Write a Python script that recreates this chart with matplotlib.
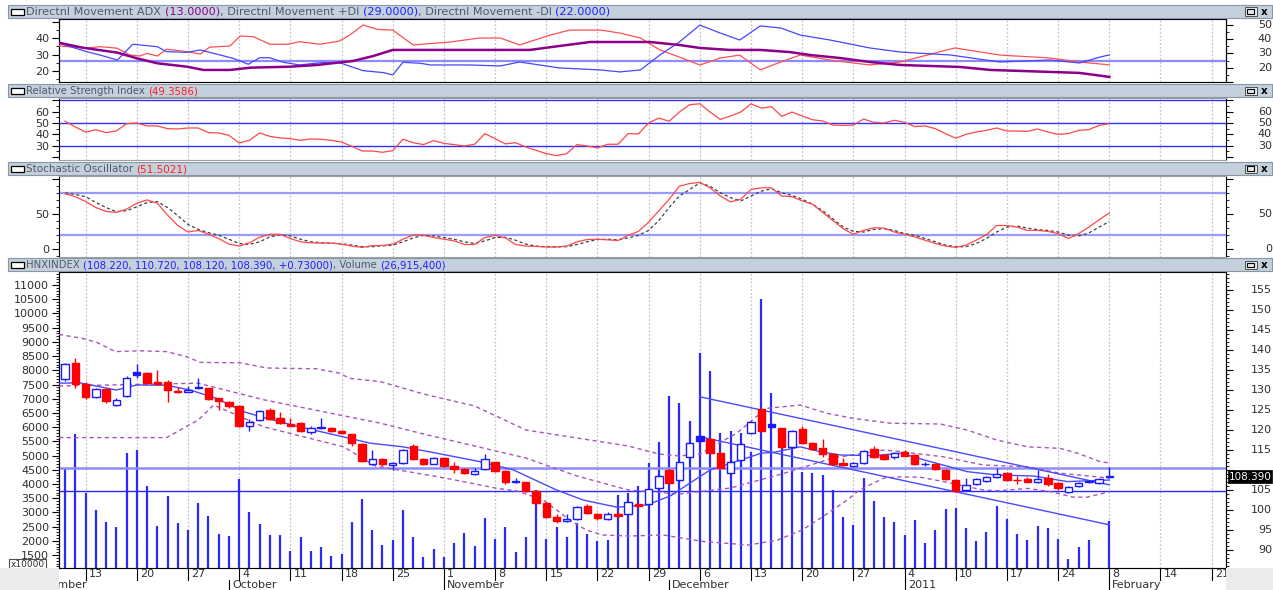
import matplotlib
matplotlib.use("Agg")
import matplotlib.pyplot as plt
import matplotlib.transforms as mtrans
from matplotlib.patches import Rectangle
from matplotlib.ticker import MultipleLocator, FixedLocator

W, H = 1273, 590
LEFT, RIGHT = 59, 1226
XMIN, XMAX = -0.6, 113.4

# ---------------- data (bar index 0 = first visible session) ----------------
opens = [132.75, 136.8, 131.5, 128.2, 130.2, 126.2, 128.5, 134.6, 134.2, 132.0,
         132.1, 129.8, 129.6, 130.5, 130.4, 127.9, 127.1, 126.0, 121.0, 122.5,
         125.0, 123.1, 121.4, 121.8, 119.4, 120.4, 120.6, 119.75, 118.9, 116.5,
         111.5, 112.75, 111.25, 111.7, 116.1, 112.75, 111.6, 113.1, 111.0, 110.2,
         109.0, 110.2, 111.9, 109.8, 106.9, 106.9, 104.75, 101.7, 98.3, 97.25,
         97.7, 101.0, 99.0, 97.7, 98.9, 98.9, 101.4, 101.5, 105.4, 110.0,
         107.5, 113.2, 118.6, 117.75, 114.2, 109.3, 112.4, 119.2, 125.25, 121.4,
         120.4, 115.8, 120.2, 116.8, 115.4, 113.9, 111.8, 111.1, 111.7, 115.25,
         113.75, 113.3, 114.4, 113.75, 111.4, 111.5, 110.0, 107.5, 105.0, 106.4,
         107.3, 108.3, 109.2, 107.6, 107.75, 106.9, 108.1, 106.7, 104.4, 106.0,
         107.1, 106.8, 108.22]
highs = [136.8, 137.9, 131.9, 130.5, 130.5, 127.9, 133.4, 136.5, 134.4, 135.0,
         132.4, 130.7, 131.1, 133.0, 130.6, 128.1, 127.3, 126.2, 122.7, 125.1,
         125.6, 124.5, 123.0, 122.0, 120.9, 123.0, 120.8, 120.0, 119.1, 116.7,
         115.0, 113.0, 112.0, 115.3, 116.4, 113.0, 113.3, 113.3, 112.0, 110.4,
         110.6, 113.9, 112.1, 110.0, 107.9, 107.1, 105.0, 101.9, 99.0, 98.9,
         101.0, 101.5, 99.2, 99.6, 99.5, 102.2, 101.6, 105.5, 108.8, 110.3,
         112.2, 117.0, 118.8, 118.0, 114.4, 112.4, 116.7, 122.2, 125.5, 121.6,
         120.6, 120.1, 121.0, 117.0, 117.8, 114.1, 112.9, 112.0, 115.0, 116.0,
         114.0, 114.6, 115.0, 114.0, 112.0, 111.7, 110.2, 107.7, 108.0, 108.0,
         108.5, 110.5, 109.4, 108.5, 108.3, 110.0, 109.0, 106.9, 105.9, 106.9,
         107.6, 107.9, 110.72]
lows = [132.3, 130.4, 127.7, 127.9, 126.8, 125.9, 128.2, 133.0, 131.5, 131.3,
        127.0, 129.2, 129.4, 130.3, 127.4, 125.0, 125.4, 120.8, 119.8, 122.3,
        122.5, 121.5, 120.9, 119.5, 119.1, 120.2, 119.5, 118.9, 116.0, 112.0,
        111.2, 111.1, 110.0, 111.5, 112.4, 111.3, 111.4, 110.8, 109.3, 109.0,
        108.8, 110.0, 109.5, 106.6, 106.7, 104.6, 101.5, 98.0, 96.7, 97.0,
        97.5, 98.9, 97.6, 97.5, 98.2, 98.7, 100.8, 101.3, 105.2, 106.5,
        107.3, 113.0, 117.0, 114.0, 110.4, 109.1, 112.2, 119.0, 119.5, 120.6,
        115.6, 115.6, 116.5, 115.0, 113.3, 111.2, 111.0, 110.8, 111.5, 113.1,
        112.5, 112.8, 113.4, 111.3, 111.0, 110.0, 107.5, 104.5, 104.8, 106.2,
        107.1, 108.1, 107.3, 106.5, 106.9, 106.7, 106.0, 105.0, 104.2, 105.8,
        106.7, 106.6, 108.12]
closes = [136.5, 131.5, 128.3, 130.2, 127.3, 127.5, 133.1, 133.75, 131.8, 131.5,
          130.0, 129.4, 129.9, 130.8, 127.7, 127.25, 126.1, 121.1, 121.9, 124.8,
          122.75, 121.8, 121.1, 119.8, 120.6, 120.7, 119.8, 119.2, 116.7, 112.3,
          112.7, 111.4, 111.8, 115.0, 112.7, 111.6, 113.0, 111.1, 110.3, 109.3,
          109.8, 112.75, 109.8, 106.9, 107.2, 104.8, 101.8, 98.3, 97.3, 97.75,
          100.7, 99.2, 97.9, 99.0, 98.6, 101.9, 101.0, 105.25, 108.5, 106.7,
          111.9, 116.7, 117.3, 114.2, 110.6, 112.1, 116.4, 121.9, 119.75, 120.8,
          115.8, 119.8, 116.7, 115.2, 114.0, 111.4, 111.3, 111.7, 114.8, 113.3,
          112.7, 114.3, 113.6, 111.5, 111.6, 110.2, 107.7, 104.75, 106.25, 107.7,
          108.2, 108.9, 107.5, 107.4, 107.1, 107.8, 106.4, 105.4, 105.7, 106.7,
          107.3, 107.7, 108.39]
volumes = [4575, 5750, 3670, 3085, 2670, 2500, 5080, 5200, 3940, 2530,
           3580, 2640, 2380, 3320, 2870, 2240, 2180, 4165, 3000, 2590,
           2205, 2205, 1650, 2125, 1630, 1790, 1480, 1550, 2670, 3470,
           2380, 1850, 2030, 3085, 2125, 1420, 1700, 1420, 1935, 2265,
           1820, 2815, 2050, 2500, 1620, 2145, 3790, 2050, 2475, 2125,
           2620, 2240, 2000, 2030, 3600, 3700, 3940, 4730, 5480, 7110,
           6860, 6220, 8620, 7990, 5780, 5880, 5810, 5115, 10510, 7190,
           5610, 5490, 4430, 4400, 4300, 3790, 2830, 2560, 4200, 3410,
           2830, 2670, 2205, 2730, 1910, 2380, 3110, 3150, 2440, 1990,
           2320, 3225, 2770, 2240, 2030, 2520, 2460, 2065, 1350, 1790,
           2030, 900, 2710]

# bollinger band / moving average (bar index, price)
bb_upper_x = [-0.6, 1.7, 3.1, 4.9, 7.3, 9.9, 11.9, 13.2, 17.1, 19.7, 24.6, 26.8, 27.8, 30.8,
              35, 40, 45, 50, 55, 58, 60, 62, 65.6, 68.5, 71.8, 74.4, 77, 80.6, 85.5,
              88.1, 91, 94, 97.2, 98.9, 101.1, 102]
bb_upper_y = [143.9, 142.9, 141.9, 139.6, 139.8, 139.6, 138.3, 136.9, 136.8, 135.5, 135.3,
              134.2, 132.9, 132.1, 129, 126, 120, 118, 116, 114, 113.5, 114, 119.2, 125.4,
              126.25, 124.2, 122.9, 121.7, 121.5, 120, 117.5, 115.8, 115.4, 114.2, 112.1, 111.75]
bb_mid_x = [-0.6, 13, 19.5, 24.4, 30.8, 35, 40, 45, 50, 55, 60, 65, 70, 75, 80, 81.6,
            85.8, 89.7, 94, 97.2, 101.1, 102]
bb_mid_y = [131, 131.7, 127.5, 125, 121.7, 119, 116, 113, 108.5, 105, 104, 105.5, 109,
            113, 115, 114.6, 113.3, 111.25, 110.8, 109.2, 108.2, 108]
bb_low_x = [-0.6, 9.9, 13, 14.5, 19.4, 27.2, 30.3, 37.3, 42.2, 44.1, 46.7, 49.3, 50.9,
            52.5, 55.2, 58.4, 62.4, 66.8, 69.6, 72, 74, 76.4, 77.6, 80, 81.6, 83.5, 85.8,
            89.7, 91.3, 94, 96.2, 98.5, 99.8, 101.1, 102]
bb_low_y = [118.1, 118.1, 122.5, 126.25, 120.8, 115.8, 111, 107.9, 105.4, 104.8, 102.5,
            97.5, 95, 93.75, 93.5, 93.75, 92.1, 91.25, 92.5, 95, 98.3, 102.5, 105, 108,
            108.3, 108.2, 107.1, 105, 104.8, 105.4, 104.6, 103.2, 103.2, 104, 104.6]
ma_x = [-0.6, 1.4, 5, 7, 9.9, 12.2, 14.8, 17.4, 19.7, 22.9, 26.8, 29.8, 33, 36.3, 40.5,
        43.8, 48, 50.6, 53.9, 56.8, 59.1, 63, 66, 68, 69.2, 71.8, 73.7, 75.7, 79, 81.6,
        84.5, 87, 88.1, 91, 94.6, 97.9, 102]
ma_y = [131.7, 131.8, 130, 131.25, 131.2, 130, 127.9, 124.6, 122.9, 120.8, 118.5, 116.7,
        115.8, 114.2, 112.1, 110, 105, 102.5, 100.7, 101.25, 103.5, 110, 112.5, 114.2,
        114.4, 115.8, 114.6, 113.75, 113.6, 114.2, 112.1, 110.4, 109.6, 108.75, 108.5,
        107.1, 107.5]
trend_x = [62, 102]
trend_up = [128.3, 106.3]
trend_dn = [118.3, 96.3]
hlines_px = [110.5, 104.75]

# directional movement
adx_x = [-0.6, 1.7, 5.1, 7, 9, 11.9, 13.5, 16.1, 18.1, 22, 24.6, 28.1, 30.1, 32, 34.7,
         37.6, 45.4, 48.3, 51.3, 57.1, 60, 62, 64.9, 67.9, 70.8, 72.8, 75.7, 78.6, 81.6,
         84.5, 87.4, 90.4, 93.3, 96.2, 99.1, 102]
adx_y = [37.6, 34.1, 30.6, 26.6, 23.1, 20.7, 18.4, 18.4, 20, 20.7, 21.9, 24.7, 28.2, 32.5,
         32.5, 32.5, 32.5, 35.3, 38.1, 38.1, 36, 33.9, 32.5, 32.5, 31, 28.9, 26.8, 24, 21.9,
         21.2, 20.5, 18.4, 17.7, 17, 16.3, 13.5]
pdi_x = [-0.6, 2.1, 3.4, 5.1, 6.6, 9, 9.9, 11.9, 13.2, 14.5, 16.4, 17.9, 19, 20, 21.3, 22.9,
         24.9, 26.8, 29.1, 31.1, 32, 33, 34.7, 35.7, 39.5, 42.5, 44.4, 48.3, 52.3, 54.2,
         56.2, 58.1, 60, 62, 64, 65.9, 67.9, 69.9, 71.8, 74.7, 78.6, 81.6, 86.5, 91.3, 96.2,
         99.1, 101.1, 102]
pdi_y = [37.2, 31.3, 28.9, 25.4, 36.5, 34.8, 31.3, 30.8, 32.5, 30.1, 26.6, 22.4, 27, 27,
         23.8, 21.9, 23.5, 23.5, 17.9, 16.5, 14.9, 23.8, 23.1, 21.9, 21.9, 21.2, 24, 19.8,
         18.4, 17, 18.4, 28.9, 38.1, 50, 44.4, 39.5, 49.4, 48, 43, 39.5, 33.9, 31, 28.9, 24,
         25.4, 23.3, 27.5, 29]
mdi_x = [-0.6, 2.1, 3.4, 5.1, 6.3, 7.3, 8, 9, 9.9, 11.9, 13.2, 14.1, 16.1, 17.1, 18.4, 20,
         21.7, 22.9, 24.9, 26.8, 27.8, 29.1, 30.5, 32, 34, 37.6, 40.5, 42.5, 44.4, 47.4, 49.3,
         52.3, 54.2, 56.2, 58.1, 60, 62, 64, 65.9, 67.9, 69.9, 71.8, 74.7, 78.6, 81.6, 86.9,
         91.3, 96.2, 99.1, 102]
mdi_y = [35.3, 33.7, 34.8, 33.7, 28.9, 28.2, 30.1, 28.2, 33, 31.3, 29.6, 34.4, 35.3, 42.3,
         41.8, 36.5, 36.5, 38.3, 36.5, 38.8, 43, 50.1, 47, 46.5, 36, 38.1, 40.9, 40.9, 36, 43,
         46.5, 46.5, 44.4, 40.9, 32.5, 27.5, 21.9, 26.8, 28.9, 18.4, 24, 28.9, 25.4, 21.9, 24,
         33.9, 28.9, 26.8, 24, 22]

rsi = [51.5, 46.5, 42, 44, 41.5, 43, 49.4, 50, 47.4, 47.4,
       45, 44.7, 45.6, 45.6, 41.5, 41.2, 39.1, 32.4, 34.7, 41.2,
       38.2, 36.8, 36.2, 34.7, 35.9, 35.6, 34.7, 33.2, 29.4, 25.3,
       25.3, 24.1, 25.6, 35.6, 32.6, 30.9, 34.4, 32, 30.9, 29.7,
       31.2, 40.6, 36.2, 31.5, 32.6, 28.8, 25.9, 22.9, 21.2, 22.9,
       30.9, 29.7, 27.9, 31.2, 31.2, 40.6, 40.3, 50, 54.4, 51.5,
       59.7, 66.2, 67, 59.7, 53.2, 56.2, 59.7, 67, 63.2, 64.4,
       55.9, 59.7, 56.2, 52.9, 51.8, 48.2, 47.9, 48.2, 53.5, 50.6,
       50, 52.4, 50.6, 46.8, 47.4, 45, 40.6, 36.5, 40, 42.1,
       43.5, 45.6, 42.9, 42.9, 42.6, 44.7, 42.1, 40, 40.6, 43.5,
       44.1, 47.9, 49.4]
stoch_k = [79, 74.8, 67.8, 59.3, 53.7, 52.3, 57, 65.4, 70.1, 65.4,
           48.6, 33.6, 24.3, 26.6, 21, 15, 7, 4.2, 8.9, 16.8,
           21, 21, 15, 10.3, 8.9, 8.4, 8.4, 7, 4.2, 2.3,
           4.7, 5.1, 7, 14, 20.1, 19.6, 16.4, 14, 11.7, 6.5,
           6.5, 16.4, 19.6, 15.9, 6.5, 4.2, 3.7, 2.8, 2.8, 4.2,
           10.3, 13.6, 14, 13.1, 12.1, 19.6, 25.2, 38.3, 54.7, 71,
           89.7, 93.5, 95.3, 87.4, 75.7, 67.3, 71, 85, 87.4, 87.4,
           75.7, 74.8, 68.7, 64, 52.3, 40.7, 29, 21, 26.6, 30.4,
           29.9, 24.3, 21, 17.3, 12.6, 7.9, 4.2, 2.3, 5.6, 12.6,
           20.6, 33.6, 33.6, 31.3, 26.6, 26.6, 25.2, 22, 15, 22,
           31.3, 41.6, 51.5]
stoch_d = [80, 78, 74.8, 66.4, 59.3, 53.3, 54.7, 60.3, 66.4, 67.8,
           59.3, 47.7, 35, 28, 23.4, 19.6, 14, 7.9, 6.5, 10.3,
           17.3, 20.6, 18.7, 14, 10.3, 8.9, 8.4, 7.5, 5.6, 3.3,
           3.3, 4.7, 5.6, 10.3, 15.9, 19.6, 18.7, 16.4, 14, 10.3,
           7.9, 11.7, 16.4, 16.8, 12.6, 7, 4.2, 3.3, 3.3, 3.3,
           6.5, 10.3, 13.6, 14, 13.1, 15.9, 19.6, 26.6, 40.7, 59.3,
           75.7, 85, 94.4, 89.7, 80.4, 73.4, 68.7, 75.7, 82.7, 86,
           80.4, 76.6, 71, 64, 54.7, 43, 31.3, 25.2, 24.3, 28,
           29, 26.6, 22, 19.6, 15, 10.3, 5.6, 3.3, 3.3, 7.9,
           15, 24.3, 31.3, 32.7, 29.9, 27.6, 26.6, 24.3, 19.6, 18.7,
           22.9, 31.3, 39.3]

week_ticks = list(range(2, 113, 5))
week_labels = ["13", "20", "27", "4", "11", "18", "25", "1", "8", "15", "22", "29",
               "6", "13", "20", "27", "4", "10", "17", "24", "8", "14", "21"]
month_pos = [-4.2, 16, 37, 59, 82, 102]
month_labels = ["September", "October", "November", "December", "2011", "February"]

# ---------------- figure ----------------
fig = plt.figure(figsize=(W / 100, H / 100), dpi=100)
fig.patch.set_facecolor("white")
renderer = fig.canvas.get_renderer()

RED = "#ff0000"
BLUE = "#1a1aff"
LBL = "#303030"
HDR = "#505a66"


def box(x0, y0, x1, y1):
    return [x0 / W, 1 - y1 / H, (x1 - x0) / W, (y1 - y0) / H]


def fig_rect(x0, y0, x1, y1, **kw):
    fig.patches.append(Rectangle((x0 / W, 1 - y1 / H), (x1 - x0) / W, (y1 - y0) / H,
                                 transform=fig.transFigure, figure=fig, **kw))


def header(y0, parts, size):
    fig_rect(8, y0, 1272, y0 + 13, facecolor="#c4d0db", edgecolor="#8797a6", lw=0.8)
    fig_rect(11, y0 + 4, 24, y0 + 10, facecolor="white", edgecolor="black", lw=0.9)
    fig_rect(1245, y0 + 2.5, 1257, y0 + 10.5, facecolor="#e4e9ee", edgecolor="#505050", lw=0.7)
    fig_rect(1247, y0 + 4.5, 1254, y0 + 9, facecolor="none", edgecolor="black", lw=0.8)
    fig.text(1264 / W, 1 - (y0 + 6.8) / H, "x", fontsize=7.5, color="black",
             ha="center", va="center", fontweight="bold")
    x = 26
    for s, c in parts:
        t = fig.text(x / W, 1 - (y0 + 7) / H, s, color=c, fontsize=size,
                     ha="left", va="center")
        x += t.get_window_extent(renderer=renderer).width


def panel(y0, y1):
    ax = fig.add_axes(box(LEFT, y0, RIGHT, y1))
    ax.set_xlim(XMIN, XMAX)
    ax.set_xticks([])
    ax.spines["top"].set_color("#a0a0a0")
    ax.spines["bottom"].set_color("#a0a0a0")
    ax.spines["left"].set_color("black")
    ax.spines["right"].set_color("black")
    for t in week_ticks:
        ax.axvline(t, color="#c4c4c4", lw=0.9, ls=(0, (1.5, 1.5)), zorder=0)
    return ax


def style_ticks(ax, side):
    ax.tick_params(axis="y", which="major", direction="out", length=5, width=0.8,
                   color="black", labelsize=8, labelcolor=LBL, pad=2)
    ax.tick_params(axis="y", which="minor", direction="out", length=2.5, width=0.6,
                   color="black")
    if side == "left":
        ax.tick_params(axis="y", left=True, right=False, labelleft=True, labelright=False,
                       which="both")
    else:
        ax.tick_params(axis="y", left=False, right=True, labelleft=False, labelright=False,
                       which="both")


def right_labels(ax, vals, fmt="%d"):
    tr = mtrans.blended_transform_factory(ax.transAxes, ax.transData)
    for v in vals:
        ax.text(1 + 46 / (RIGHT - LEFT), v, fmt % v, transform=tr, ha="right", va="center",
                fontsize=8, color=LBL, clip_on=False)


# ---- ADX panel ----
header(5, [("Directnl Movement ADX ", HDR), ("(13.0000)", "#8b008b"),
           (", Directnl Movement +DI ", HDR), ("(29.0000)", "#2020ff"),
           (", Directnl Movement -DI ", HDR), ("(22.0000)", "#2020ff")], 8.1)
ax1 = panel(19, 82)
ax1.set_ylim(13.2, 51.8)
ax1.yaxis.set_major_locator(FixedLocator([20, 30, 40, 50]))
ax1.yaxis.set_minor_locator(MultipleLocator(5))
ax1.set_yticklabels(["20", "30", "40", ""])
style_ticks(ax1, "left")
ax1r = ax1.twinx()
ax1r.set_ylim(9.9, 54.3)
ax1r.set_xlim(XMIN, XMAX)
ax1r.yaxis.set_major_locator(MultipleLocator(10))
ax1r.yaxis.set_minor_locator(MultipleLocator(5))
style_ticks(ax1r, "right")
right_labels(ax1r, [20, 30, 40, 50])
ax1r.axhline(25, color="#8c8cff", lw=1.6, zorder=1)
ax1r.plot(mdi_x, mdi_y, color="#ff5050", lw=0.9, zorder=3)
ax1r.plot(pdi_x, pdi_y, color="#4646ff", lw=0.9, zorder=3)
ax1r.plot(adx_x, adx_y, color="#8b008b", lw=1.8, zorder=4)

# ---- RSI panel ----
header(84, [("Relative Strength Index ", HDR), ("(49.3586)", "#ff2020")], 7.3)
ax2 = panel(98, 160)
ax2.set_ylim(17.3, 72.1)
ax2.yaxis.set_major_locator(FixedLocator([20, 30, 40, 50, 60, 70]))
ax2.yaxis.set_minor_locator(MultipleLocator(5))
ax2.set_yticklabels(["", "30", "40", "50", "60", ""])
style_ticks(ax2, "left")
ax2.tick_params(axis="y", which="both", right=True)
right_labels(ax2, [30, 40, 50, 60])
for lv in (70, 50, 30):
    ax2.axhline(lv, color="#3030ff", lw=1.0, zorder=1)
ax2.plot(range(len(rsi)), rsi, color="#ff4848", lw=0.9, zorder=3)

# ---- Stochastic panel ----
header(162, [("Stochastic Oscillator ", HDR), ("(51.5021)", "#ff2020")], 7.5)
ax3 = panel(176, 257)
ax3.set_ylim(-11.4, 104.3)
ax3.yaxis.set_major_locator(FixedLocator([0, 50, 100]))
ax3.yaxis.set_minor_locator(MultipleLocator(10))
ax3.set_yticklabels(["0", "50", ""])
style_ticks(ax3, "left")
ax3.tick_params(axis="y", which="both", right=True)
right_labels(ax3, [0, 50])
for lv in (80, 20):
    ax3.axhline(lv, color="#9a9aff", lw=1.6, zorder=1)
ax3.plot(range(len(stoch_d)), stoch_d, color="#404040", lw=0.9, ls=(0, (2.5, 2)), zorder=3)
ax3.plot(range(len(stoch_k)), stoch_k, color="#ff4848", lw=0.9, zorder=4)

# ---- main price / volume panel ----
header(258, [("HNXINDEX ", HDR),
             ("(108.220, 110.720, 108.120, 108.390, +0.73000)", "#2020ff"),
             (", Volume ", HDR), ("(26,915,400)", "#2020ff")], 7.25)
axv = panel(272, 568)
axv.set_ylim(1044, 11460)
axv.yaxis.set_major_locator(MultipleLocator(500))
axv.yaxis.set_minor_locator(MultipleLocator(100))
style_ticks(axv, "left")
idx = list(range(len(volumes)))
axv.vlines(idx, 0, volumes, color="#2a2aff", lw=1.6, zorder=2)

axp = axv.twinx()
axp.set_xlim(XMIN, XMAX)
axp.set_ylim(85.5, 159.5)
axp.yaxis.set_major_locator(MultipleLocator(5))
axp.yaxis.set_minor_locator(MultipleLocator(1))
style_ticks(axp, "right")
# the 110 label sits under the last-price tag, as in the source chart
right_labels(axp, [v for v in range(90, 160, 5) if v != 110])

for lv, col, lw in zip(hlines_px, ["#8c8cff", "#2a2aff"], [1.8, 1.0]):
    axp.axhline(lv, color=col, lw=lw, zorder=2)

dash = (0, (3, 2.5))
for xs, ys in ((bb_upper_x, bb_upper_y), (bb_mid_x, bb_mid_y), (bb_low_x, bb_low_y)):
    axp.plot(xs, ys, color="#a855b8", lw=1.0, ls=dash, zorder=3)
axp.plot(ma_x, ma_y, color="#4a4aff", lw=1.0, zorder=3)
axp.plot(trend_x, trend_up, color="#4a4aff", lw=1.0, zorder=3)
axp.plot(trend_x, trend_dn, color="#4a4aff", lw=1.0, zorder=3)

# candlesticks
for i in idx:
    o, h, l, c = opens[i], highs[i], lows[i], closes[i]
    prev = closes[i - 1] if i > 0 else o
    col = BLUE if c >= prev else RED
    axp.vlines(i, l, h, color=col, lw=1.0, zorder=4)
    lo, hi = min(o, c), max(o, c)
    hgt = max(hi - lo, 0.12)
    face = "white" if c > o else col
    axp.add_patch(Rectangle((i - 0.36, lo), 0.72, hgt, facecolor=face, edgecolor=col,
                            lw=1.0, zorder=5))

# last price tag
fig_rect(1228, 470, 1272, 483, facecolor="black", edgecolor="black", lw=0.5, zorder=10)
fig.text(1250 / W, 1 - 476.5 / H, "108.390", color="white", fontsize=7.5,
         ha="center", va="center", zorder=11)

# x10000 label
fig_rect(9, 559, 46, 570, facecolor="white", edgecolor="#505050", lw=0.8)
fig.text(27.5 / W, 1 - 564.5 / H, "x10000", fontsize=6.5, color=LBL, ha="center", va="center")

# date axis
fig_rect(0, 568, LEFT, 590, facecolor="#ebebeb", edgecolor="none")
fig_rect(RIGHT, 568, W, 590, facecolor="#ebebeb", edgecolor="none")
axd = fig.add_axes(box(LEFT, 568, RIGHT, 590))
axd.set_xlim(XMIN, XMAX)
axd.set_ylim(0, 22)
axd.axis("off")
for t, lab in zip(week_ticks, week_labels):
    axd.plot([t, t], [22, 10], color="black", lw=0.8)
    axd.text(t + 0.3, 16, lab, fontsize=8, color=LBL, ha="left", va="center", clip_on=True)
for t, lab in zip(month_pos, month_labels):
    axd.plot([t, t], [10, 0], color="black", lw=0.8)
    axd.text(t + 0.3, 4.5, lab, fontsize=8, color=LBL, ha="left", va="center", clip_on=True)

fig.savefig("out.png", dpi=100)
